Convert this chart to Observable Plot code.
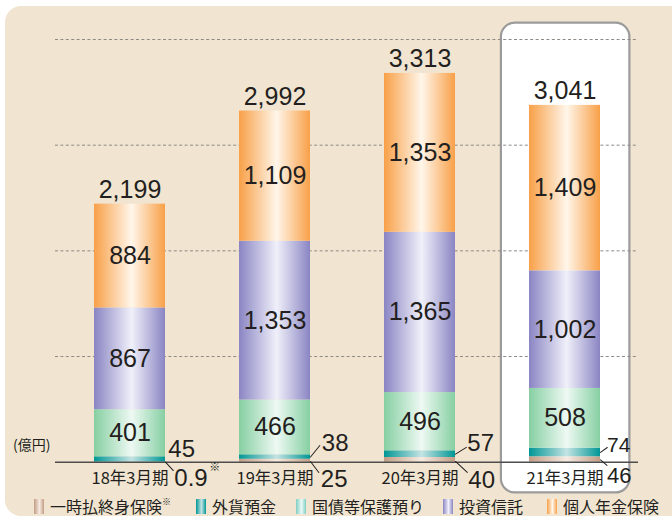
<!DOCTYPE html>
<html><head><meta charset="utf-8">
<script src="https://cdn.jsdelivr.net/npm/d3@7"></script>
<script src="https://cdn.jsdelivr.net/npm/@observablehq/plot@0.6"></script>
<style>
html,body{margin:0;padding:0;background:#fff;width:672px;height:517px;overflow:hidden;position:relative;}
#bg{position:absolute;left:5px;top:6px;width:720px;height:510px;background:#f1e5d1;border-radius:16px;}
#chart{position:absolute;left:0;top:0;}
#legend{position:absolute;left:0;top:497px;height:19px;width:672px;font-family:"Noto Sans CJK JP",sans-serif;font-size:16px;line-height:19px;color:#231f20;}
.item{position:absolute;top:0;height:19px;display:flex;align-items:center;white-space:nowrap;line-height:19px;}
.sw{width:10px;height:15px;margin-right:6px;}
sup{font-size:9px;line-height:9px;vertical-align:top;}
</style></head>
<body>
<div id="bg"></div>
<div id="chart"></div>
<div id="legend"></div>
<script>
const periods = ["18年3月期", "19年3月期", "20年3月期", "21年3月期"];
const seriesNames = ["一時払終身保険", "外貨預金", "国債等保護預り", "投資信託", "個人年金保険"];
const lumpSumInsurance = [0.9, 25, 40, 46];
const fxDeposits = [45, 38, 57, 74];
const govBonds = [401, 466, 496, 508];
const investmentTrusts = [867, 1353, 1365, 1002];
const pensionInsurance = [884, 1109, 1353, 1409];
const totals = [2199, 2992, 3313, 3041];
const gridTicks = [900, 1800, 2700, 3600];
const unitLabel = "(億円)";

const seriesValues = [lumpSumInsurance, fxDeposits, govBonds, investmentTrusts, pensionInsurance];
const gradients = [
  {id: "gBrown", edge: "#c39c84", mid: "#f6ebe2"},
  {id: "gTeal", edge: "#009795", mid: "#c4e3e3"},
  {id: "gGreen", edge: "#86cfa2", mid: "#eef9f3"},
  {id: "gPurple", edge: "#8a85c3", mid: "#f0f0fa"},
  {id: "gOrange", edge: "#f8a048", mid: "#fff6ea"}
];
const legendGradients = [
  {edge: "#c39c84", mid: "#f6ebe2"},
  {edge: "#009795", mid: "#c4e3e3"},
  {edge: "#7fcfc4", mid: "#eaf8f6"},
  {edge: "#8a85c3", mid: "#f0f0fa"},
  {edge: "#f8a048", mid: "#fff6ea"}
];

// stacked rows
const rows = [];
periods.forEach((p, i) => {
  let cum = 0;
  seriesNames.forEach((s, k) => {
    const v = seriesValues[k][i];
    rows.push({period: p, series: s, k, value: v, y1: cum, y2: cum + v, mid: cum + v / 2});
    cum += v;
  });
});
const totalRows = periods.map((p, i) => ({period: p, total: totals[i], top: rows.filter(r => r.period === p).reduce((a, r) => a + r.value, 0)}));
const row = (pi, k) => rows.find(r => r.period === periods[pi] && r.k === k);

const fmt = d3.format(",");
const numFont = "Liberation Sans, Arial, sans-serif";
const narrowFont = "Liberation Sans Narrow, Liberation Sans, Arial, sans-serif";
const ink = "#231f20";
const half = 35.5; // half bar width in px (for leader anchor at bar edge)

// callout layout (style/placement only)
const callouts = [
  {pi: 0, k: 1, lead: null, tx: 38.3, ty: -10, size: 24, font: numFont},
  {pi: 0, k: 0, lead: {dy: 0, len: 11.5, rot: 137}, tx: 44.3, ty: 16.4, size: 24, font: numFont, sup: true},
  {pi: 1, k: 1, lead: {dy: 0, len: 14.8, rot: 39}, tx: 46.8, ty: -13.5, size: 24, font: numFont},
  {pi: 1, k: 0, lead: {dy: 0.8, len: 13.8, rot: 143}, tx: 45.8, ty: 18.8, size: 24, font: numFont},
  {pi: 2, k: 1, lead: {dy: 0, len: 12.8, rot: 58}, tx: 47.3, ty: -10.7, size: 24, font: numFont},
  {pi: 2, k: 0, lead: {dy: 1.6, len: 16.1, rot: 133}, tx: 48.3, ty: 20.6, size: 24, font: numFont},
  {pi: 3, k: 1, lead: {dy: 0, len: 8.4, rot: 54}, tx: 42, ty: -7, size: 21, font: narrowFont},
  {pi: 3, k: 0, lead: {dy: 0.3, len: 8.6, rot: 131}, tx: 42, ty: 16, size: 22, font: narrowFont}
];
const lineShape = {draw(ctx, l) { ctx.moveTo(0, 0); ctx.lineTo(0, -l); }};

const calloutMarks = [];
for (const c of callouts) {
  const r = row(c.pi, c.k);
  if (c.lead) {
    calloutMarks.push(Plot.vector([r], {x: "period", y: "mid", dx: half, dy: c.lead.dy, length: c.lead.len, rotate: c.lead.rot, anchor: "start", shape: lineShape, stroke: ink, strokeWidth: 1}));
  }
  calloutMarks.push(Plot.text([r], {x: "period", y: "mid", dx: c.tx, dy: c.ty, text: d => fmt(d.value), textAnchor: "start", fontSize: c.size, fontFamily: c.font, fill: ink}));
  if (c.sup) {
    calloutMarks.push(Plot.text([r], {x: "period", y: "mid", dx: c.tx + 35, dy: c.ty - 11, text: () => "※", textAnchor: "start", fontSize: 11, fontFamily: "Noto Sans CJK JP", fill: ink}));
  }
}

const svg = Plot.plot({
  width: 672,
  height: 497,
  marginTop: 39,
  marginBottom: 35.3,
  marginLeft: 55,
  marginRight: 34,
  style: {background: "transparent", color: ink, fontFamily: numFont},
  x: {domain: periods, paddingInner: 0.513, paddingOuter: 0.2565, axis: null},
  y: {domain: [0, 3600], axis: null},
  color: {domain: seriesNames, range: gradients.map(g => `url(#${g.id})`)},
  marks: [
    Plot.barY([periods[3]], {x: d => d, y1: -262, y2: 3740, fill: "white", stroke: "#9b9b9b", strokeWidth: 2.2, rx: 14, insetLeft: -28.1, insetRight: -29.4}),
    Plot.ruleY(gridTicks, {stroke: "#8f8a86", strokeWidth: 1, strokeDasharray: "3,2.4"}),
    Plot.barY(rows, {x: "period", y1: "y1", y2: "y2", fill: "series"}),
    Plot.ruleY([0], {stroke: "#4d4d4d", strokeWidth: 1.5}),
    Plot.text(rows.filter(r => r.value >= 300), {x: "period", y: "mid", text: d => fmt(d.value), fontSize: 25, fontFamily: numFont, fill: ink}),
    Plot.text(totalRows, {x: "period", y: "top", dy: -14, text: d => fmt(d.total), fontSize: 25, fontFamily: numFont, fill: ink}),
    ...calloutMarks,
    Plot.axisX({tickSize: 0, tickPadding: 10.5, fontSize: 16.5, fontFamily: "Noto Sans CJK JP, sans-serif", label: null}),
    Plot.text([unitLabel], {frameAnchor: "bottom-left", textAnchor: "end", dx: -5, dy: -12, fontSize: 14, fontFamily: "Noto Sans CJK JP, sans-serif", fill: ink})
  ]
});

const defs = document.createElementNS("http://www.w3.org/2000/svg", "defs");
defs.innerHTML = gradients.map(g => `<linearGradient id="${g.id}" x1="0" x2="1" y1="0" y2="0"><stop offset="0" stop-color="${g.edge}"/><stop offset="0.53" stop-color="${g.mid}"/><stop offset="1" stop-color="${g.edge}"/></linearGradient>`).join("");
svg.insertBefore(defs, svg.firstChild);
document.getElementById("chart").appendChild(svg);

// legend
const legendLefts = [34, 196, 296, 443, 547];
const legend = document.getElementById("legend");
seriesNames.forEach((s, k) => {
  const it = document.createElement("div");
  it.className = "item";
  it.style.left = legendLefts[k] + "px";
  const g = legendGradients[k];
  it.innerHTML = `<div class="sw" style="background:linear-gradient(to right, ${g.edge}, ${g.mid} 55%, ${g.edge})"></div><span>${s}${k === 0 ? "<sup>※</sup>" : ""}</span>`;
  legend.appendChild(it);
});
</script>
</body></html>
